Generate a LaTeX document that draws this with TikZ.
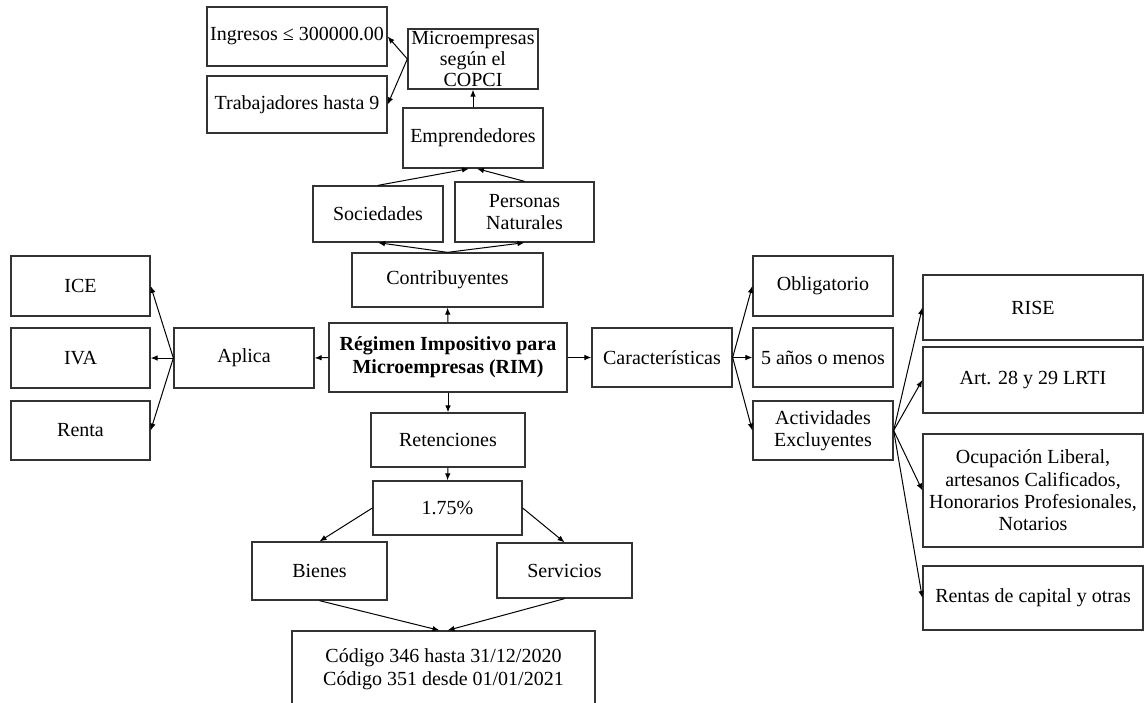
\documentclass[tikz,border=0pt]{standalone}
\usepackage{fontspec}
\setmainfont{Liberation Serif}
\usetikzlibrary{arrows.meta}
\tikzset{
  box/.style={draw=black!80, line width=0.65pt, inner sep=1pt, align=center,
    font=\fontsize{10}{11.2}\selectfont},
  dims/.style 2 args={minimum width=#1*0.5pt, minimum height=#2*0.5pt}
}
\begin{document}
\begin{tikzpicture}[x=0.5pt,y=-0.5pt]
      \useasboundingbox (0,0) rectangle (1145,702);
      \node[box,dims={180}{59}] (ingr) at (297,36.5) {Ingresos ≤ 300000.00};
      \node[box,dims={180}{57}] (trab) at (297,104.5) {Trabajadores hasta 9};
      \node[box,dims={130}{60},font=\fontsize{10}{10.5}\selectfont] (copci) at (473,59) {Microempresas\\según el\\COPCI};
      \node[box,dims={140}{60}] (empr) at (473,138) {Emprendedores};
      \node[box,dims={130}{56}] (soc) at (378,214) {Sociedades};
      \node[box,dims={139}{60}] (pers) at (524.5,212) {Personas\\Naturales};
      \node[box,dims={191}{54}] (contr) at (447.5,280) {Contribuyentes};
      \node[box,dims={238}{69},font=\fontsize{10}{11.5}\selectfont\bfseries] (rim) at (448,357.5) {Régimen Impositivo para\\Microempresas (RIM)};
      \node[box,dims={154}{54}] (ret) at (448,440) {Retenciones};
      \node[box,dims={149}{54}] (pct) at (447.5,508) {1.75\%};
      \node[box,dims={135}{58}] (bienes) at (319.5,571) {Bienes};
      \node[box,dims={135}{55}] (serv) at (564.5,570.5) {Servicios};
      \node[box,dims={303}{76}] (cod) at (443.5,669) {Código 346 hasta 31/12/2020\\Código 351 desde 01/01/2021};
      \node[box,dims={140}{60}] (aplica) at (244,358) {Aplica};
      \node[box,dims={139}{60}] (ice) at (80.5,286) {ICE};
      \node[box,dims={139}{60}] (iva) at (80.5,358) {IVA};
      \node[box,dims={139}{59}] (renta) at (80.5,430.5) {Renta};
      \node[box,dims={140}{59}] (carac) at (662,357.5) {Características};
      \node[box,dims={140}{60}] (oblig) at (823,286) {Obligatorio};
      \node[box,dims={140}{59}] (anios) at (823,357.5) {5 años o menos};
      \node[box,dims={140}{59}] (activ) at (823,430.5) {Actividades\\Excluyentes};
      \node[box,dims={220}{65}] (rise) at (1033,307.5) {RISE};
      \node[box,dims={220}{66}] (art) at (1033,380) {Art. 28 y 29 LRTI};
      \node[box,dims={220}{113}] (ocup) at (1033,490.5) {Ocupación Liberal,\\artesanos Calificados,\\Honorarios Profesionales,\\Notarios};
      \node[box,dims={220}{64}] (rentas) at (1033,598) {Rentas de capital y otras};
      \begin{scope}[-{Latex[length=3.5pt,width=2.8pt]}, line width=0.5pt]
        \draw (copci.west) to (ingr.east);
        \draw (copci.west) to (trab.east);
        \draw (empr.north) to (copci.south);
        \draw (soc.north) to ([xshift=-2pt]empr.south);
        \draw (pers.north) to ([xshift=2pt]empr.south);
        \draw (contr.north) to (soc.south);
        \draw (contr.north) to (pers.south);
        \draw (rim.north) to (contr.south);
        \draw (rim.west) to (aplica.east);
        \draw (aplica.west) to (ice.east);
        \draw (aplica.west) to (iva.east);
        \draw (aplica.west) to (renta.east);
        \draw (rim.east) to (carac.west);
        \draw (carac.east) to (oblig.west);
        \draw (carac.east) to (anios.west);
        \draw (carac.east) to (activ.west);
        \draw (activ.east) to (rise.west);
        \draw (activ.east) to (art.west);
        \draw (activ.east) to (ocup.west);
        \draw (activ.east) to (rentas.west);
        \draw (rim.south) to (ret.north);
        \draw (ret.south) to (pct.north);
        \draw (pct.west) to (bienes.north);
        \draw (pct.east) to (serv.north);
        \draw (bienes.south) to ([xshift=-2pt]cod.north);
        \draw (serv.south) to ([xshift=2pt]cod.north);
      \end{scope}
    \end{tikzpicture}
\end{document}
